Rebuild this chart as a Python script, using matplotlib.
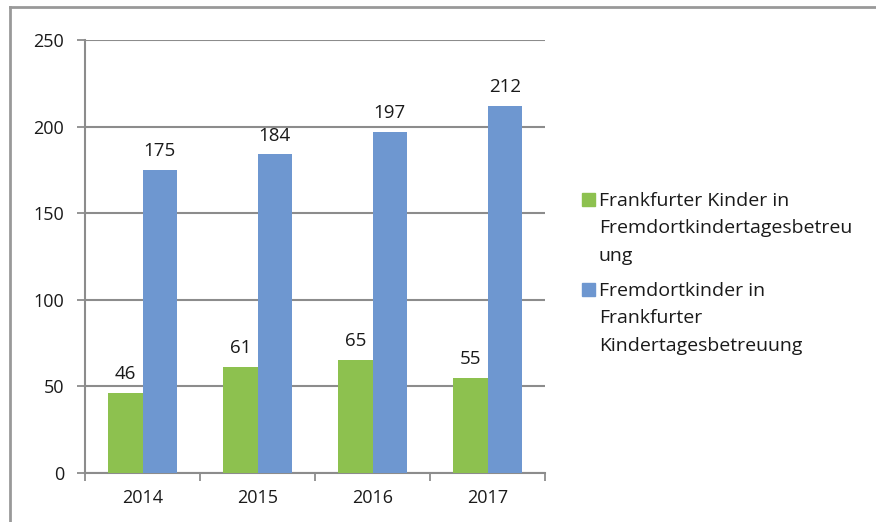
import matplotlib
matplotlib.use("Agg")
import matplotlib.pyplot as plt
import numpy as np
from matplotlib.lines import Line2D
from matplotlib.patches import Rectangle

years = ["2014", "2015", "2016", "2017"]
frankfurter_kinder = [46, 61, 65, 55]
fremdortkinder = [175, 184, 197, 212]
series_labels = [["Frankfurter Kinder in", "Fremdortkindertagesbetreu", "ung"],
                 ["Fremdortkinder in", "Frankfurter", "Kindertagesbetreuung"]]
yticks = [0, 50, 100, 150, 200, 250]

plt.rcParams['font.family'] = ['Open Sans', 'DejaVu Sans']
GREEN = "#8DC14F"
BLUE = "#6E97D0"
GRID = "#8C8C8C"
TXT = "#1a1a1a"

fig = plt.figure(figsize=(8.76, 5.22), dpi=100)
ax = fig.add_axes([85/876, 1-472.7/522, (545-85)/876, (472.7-40)/522])

x = np.arange(len(years))
w = 0.3
b1 = ax.bar(x - w/2, frankfurter_kinder, w, color=GREEN, zorder=3)
b2 = ax.bar(x + w/2, fremdortkinder, w, color=BLUE, zorder=3)
for bars in (b1, b2):
    ax.bar_label(bars, padding=7, fontsize=13.5, color=TXT)

ax.set_xlim(-0.5, len(years) - 0.5)
ax.set_ylim(0, 250)
ax.set_yticks(yticks)
ax.set_xticks(x)
ax.set_xticklabels(years)
ax.set_xticks(np.arange(len(years) + 1) - 0.5, minor=True)
ax.tick_params(axis='x', which='major', length=0, pad=12, labelsize=13, colors=TXT)
ax.tick_params(axis='x', which='minor', length=6, width=1.3, color=GRID)
ax.tick_params(axis='y', length=6, width=1.3, color=GRID, pad=9, labelsize=13, labelcolor=TXT)
ax.yaxis.grid(True, color=GRID, linewidth=1.5, zorder=0)
ax.set_axisbelow(True)
for s in ("top", "right"):
    ax.spines[s].set_visible(False)
for s in ("left", "bottom"):
    ax.spines[s].set_color(GRID)
    ax.spines[s].set_linewidth(1.5)

# manual legend (square marker next to first line, lines spaced like the reference)
colors = [GREEN, BLUE]
first_baselines = [206, 296]
line_step = 27.3
for col, lines, y0 in zip(colors, series_labels, first_baselines):
    fig.add_artist(Rectangle((582/876, 1-y0/522), 13/876, 13/522,
                             transform=fig.transFigure, color=col))
    for i, t in enumerate(lines):
        fig.text(599/876, 1-(y0 + i*line_step)/522, t, fontsize=14,
                 color=TXT, va='baseline', ha='left')

# outer frame (top and left edges visible)
fig.add_artist(Line2D([10/876, 10/876], [0, 1-7/522], transform=fig.transFigure, color="#999999", lw=2))
fig.add_artist(Line2D([10/876, 1], [1-7/522, 1-7/522], transform=fig.transFigure, color="#999999", lw=2))

fig.savefig("out.png", dpi=100)
